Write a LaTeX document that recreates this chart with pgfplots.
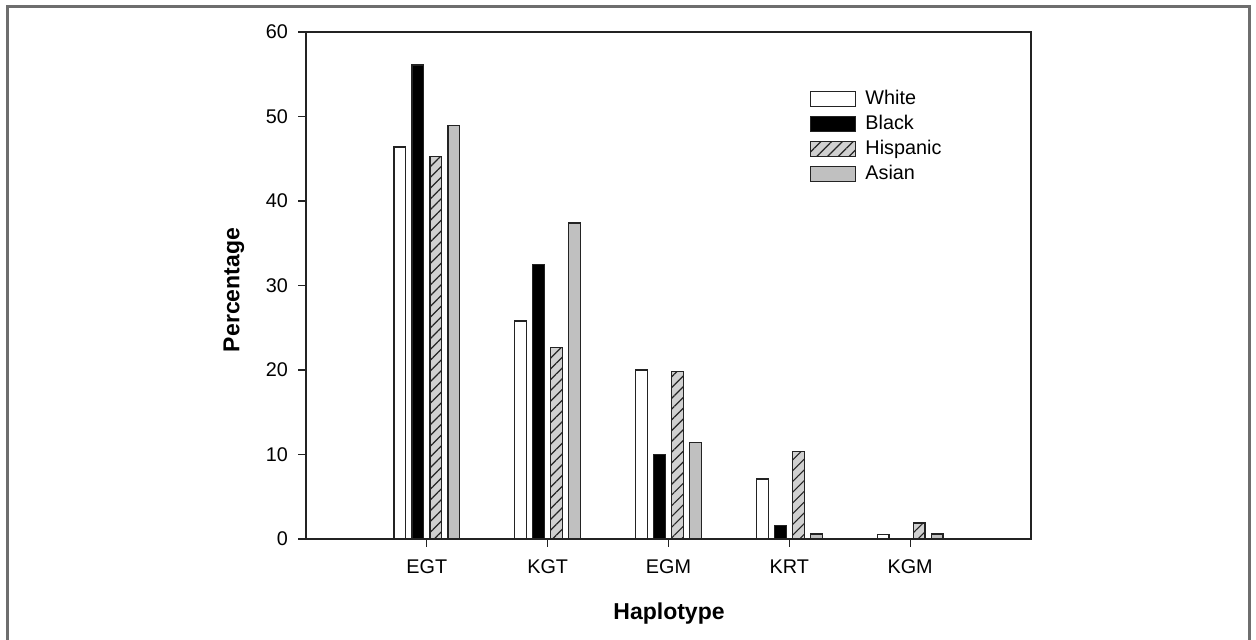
\documentclass[border=0pt]{standalone}
\usepackage{pgfplots}
\pgfplotsset{compat=1.18}
\usepackage{fontspec}
\setmainfont{Liberation Sans}
\usetikzlibrary{patterns.meta}
\definecolor{framegray}{RGB}{110,110,110}
\definecolor{asiangray}{RGB}{192,192,192}
\definecolor{hispgray}{RGB}{208,208,208}
\definecolor{edge}{RGB}{35,35,35}
\begin{document}
\begin{tikzpicture}[x=1pt,y=1pt]
\useasboundingbox (0,0) rectangle (628,320);
\draw[framegray, line width=1.2pt] (3.75,0) -- (3.75,316.75) -- (624.75,316.75) -- (624.75,0);
\begin{axis}[
  at={(153pt,50.5pt)}, anchor=south west,
  width=362.5pt, height=253.5pt, scale only axis,
  xmin=0, xmax=6, ymin=0, ymax=60,
  xtick={1,2,3,4,5}, xticklabels={EGT,KGT,EGM,KRT,KGM},
  ytick={0,10,20,30,40,50,60},
  tick align=outside, major tick length=4pt,
  xtick pos=bottom, ytick pos=left,
  axis line style={line width=0.8pt, edge},
  tick style={line width=0.6pt, edge},
  /pgf/number format/assume math mode=true,
  tick label style={font=\fontsize{9.9}{11}\selectfont},
  xticklabel style={yshift=-3pt},
  yticklabel style={xshift=-1.5pt},
  ybar=3.15pt, bar width=5.85pt,
  every axis plot/.append style={legend image code/.code={\draw[##1] (0pt,-3.75pt) rectangle (22.5pt,3.75pt);}},
  every axis y label/.style={at={(axis description cs:-0.0993,0.491)}, rotate=90, anchor=center},
  every axis x label/.style={at={(axis description cs:0.5007,-0.158)}, anchor=base},
  label style={font=\bfseries\fontsize{11.5}{13}\selectfont},
  ylabel={Percentage}, xlabel={Haplotype},
  legend style={at={(0.695,0.892)}, anchor=north west, draw=none, fill=none,
    font=\fontsize{9.9}{11}\selectfont, inner sep=0pt, row sep=0.5pt,
    nodes={inner ysep=1.5pt, inner xsep=4.5pt, text height=7pt, text depth=2pt},
    cells={anchor=west}},
]
\addplot[draw=edge, line width=0.6pt, fill=white] coordinates {(1,46.4) (2,25.8) (3,20.0) (4,7.1) (5,0.5)};
\addplot[draw=edge, line width=0.6pt, fill=black] coordinates {(1,56.1) (2,32.5) (3,10.0) (4,1.6)};
\addplot[draw=edge, line width=0.6pt, fill=hispgray, postaction={pattern={Lines[angle=45,distance=3.8pt,line width=0.6pt]}, pattern color=edge}] coordinates {(1,45.3) (2,22.7) (3,19.8) (4,10.4) (5,1.9)};
\addplot[draw=edge, line width=0.6pt, fill=asiangray] coordinates {(1,48.9) (2,37.4) (3,11.4) (4,0.6) (5,0.6)};
\legend{White,Black,Hispanic,Asian}
\end{axis}
\end{tikzpicture}
\end{document}
